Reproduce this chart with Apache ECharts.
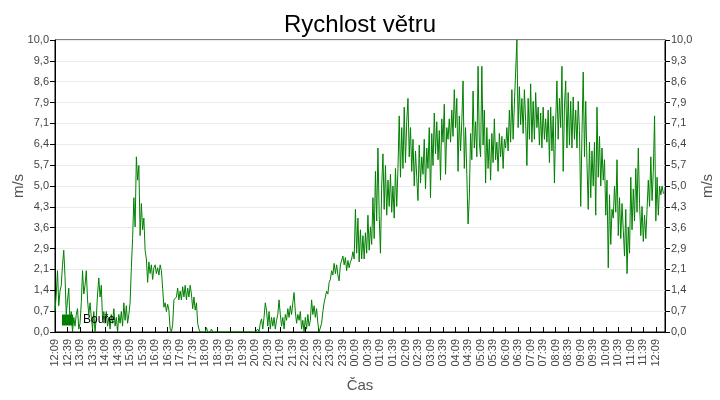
<!DOCTYPE html>
<html><head><meta charset="utf-8">
<script src="https://cdn.jsdelivr.net/npm/echarts@6/dist/echarts.min.js"></script>
<style>html,body{margin:0;padding:0;background:#fff}#c{width:720px;height:400px}</style>
</head><body><div id="c"></div>
<script>
const chartTitle = 'Rychlost větru';
const seriesName = 'Bouře';
const yName = 'm/s';
const xName = 'Čas';
const startMinutes = 12 * 60 + 9;   // 12:09
const stepMinutes = 3;
const spanMinutes = 1462;
const yMin = 0, yMax = 10, yDivisions = 14;

// wind speed, one value every 3 minutes, grouped by hour from 12:09
const h00 = [0.7, 1.3, 2.1, 0.9, 1.4, 1.6, 2.3, 2.8, 1.9, 0.6, 1.1, 1.5, 0.3, 0.7, 0.0, 0.5, 0.2, 0.6, 0.8, 0.1];
const h01 = [0.3, 1.0, 2.1, 1.3, 1.6, 2.1, 1.1, 0.6, 1.0, 0.5, 0.1, 0.7, 0.0, 0.5, 1.3, 1.85, 1.2, 1.6, 0.4, 0.7];
const h02 = [0.3, 0.7, 0.2, 0.5, 0.1, 0.6, 0.3, 0.8, 0.2, 0.5, 0.0, 0.6, 0.3, 0.7, 0.2, 1.0, 0.4, 0.9, 0.3, 0.6];
const h03 = [1.0, 2.2, 3.2, 4.6, 3.6, 6.0, 5.2, 5.7, 3.3, 4.4, 3.5, 3.9, 2.8, 2.5, 1.7, 2.4, 2.0, 2.3, 1.8, 2.2];
const h04 = [2.3, 2.0, 2.2, 1.95, 2.3, 2.1, 1.5, 0.85, 1.0, 0.7, 0.95, 0.75, 0.1, 0.0, 0.25, 1.1, 1.05, 1.2, 1.5, 1.1];
const h05 = [1.4, 1.1, 1.55, 1.2, 1.6, 1.1, 1.5, 1.2, 1.6, 1.3, 0.8, 1.2, 0.75, 1.0, 0.3, 0.1, 0.0, 0.0, 0.0, 0.0];
const h06 = [0.0, 0.15, 0.0, 0.0, 0.0, 0.1, 0.0, 0.0, 0.0, 0.0, 0.0, 0.0, 0.0, 0.0, 0.0, 0.0, 0.0, 0.0, 0.0, 0.0];
const h07 = [0.0, 0.0, 0.0, 0.0, 0.0, 0.0, 0.0, 0.0, 0.0, 0.0, 0.0, 0.0, 0.0, 0.0, 0.0, 0.0, 0.0, 0.0, 0.0, 0.0];
const h08 = [0.0, 0.0, 0.1, 0.0, 0.3, 0.45, 0.1, 0.5, 1.0, 0.75, 0.2, 0.7, 0.1, 0.5, 0.2, 0.5, 0.1, 0.4, 0.6, 1.1];
const h09 = [0.6, 0.2, 0.5, 0.1, 0.6, 0.4, 0.8, 0.5, 0.9, 0.6, 1.0, 1.35, 0.7, 0.3, 0.6, 0.4, 0.7, 0.1, 0.4, 0.0];
const h10 = [0.5, 0.1, 0.6, 0.2, 0.4, 1.1, 0.6, 0.9, 0.5, 0.8, 0.3, 0.0, 0.0, 0.3, 0.7, 1.0, 1.2, 1.4, 1.3, 1.7];
const h11 = [1.8, 2.1, 1.95, 2.35, 2.0, 2.3, 1.95, 1.75, 2.3, 2.25, 2.6, 2.3, 2.55, 2.1, 2.45, 2.2, 2.4, 2.5, 2.75, 2.5];
const h12 = [4.2, 2.7, 3.9, 2.4, 3.5, 2.5, 3.3, 2.5, 3.4, 2.7, 4.0, 2.8, 3.6, 3.0, 4.6, 3.2, 5.5, 3.8, 6.3, 4.0];
const h13 = [2.7, 5.0, 6.1, 4.2, 5.7, 4.0, 5.2, 4.3, 5.4, 4.1, 5.0, 3.9, 5.6, 4.3, 5.6, 7.4, 5.3, 7.0, 5.6, 7.7];
const h14 = [5.8, 7.2, 8.0, 6.0, 7.0, 5.5, 6.6, 5.0, 6.2, 5.3, 4.5, 6.4, 5.1, 6.0, 5.4, 6.6, 4.9, 6.3, 5.6, 7.0];
const h15 = [4.6, 6.8, 5.7, 7.5, 6.1, 7.2, 5.9, 6.9, 5.2, 7.3, 6.5, 7.8, 5.4, 7.0, 6.6, 7.3, 6.5, 7.6, 6.7, 8.3];
const h16 = [7.0, 8.0, 5.5, 7.4, 6.2, 7.2, 8.6, 5.6, 7.0, 5.4, 3.7, 4.6, 6.8, 5.9, 8.25, 6.3, 7.2, 6.0, 9.1, 6.5];
const h17 = [6.0, 9.1, 6.4, 7.6, 5.1, 7.0, 5.6, 6.6, 5.2, 6.8, 5.8, 7.3, 5.9, 6.5, 5.5, 6.8, 6.0, 6.7, 5.6, 6.6];
const h18 = [6.3, 7.0, 6.2, 7.6, 6.5, 8.3, 6.6, 7.8, 8.9, 10.0, 7.0, 8.4, 7.1, 8.0, 6.8, 8.3, 7.2, 5.7, 8.0, 6.6];
const h19 = [8.5, 6.5, 7.9, 6.6, 8.2, 7.0, 7.7, 6.4, 7.5, 6.3, 7.7, 6.6, 7.3, 6.5, 7.6, 5.8, 7.7, 6.2, 7.4, 5.1];
const h20 = [7.2, 8.6, 6.6, 8.0, 7.0, 9.1, 5.5, 7.7, 8.6, 6.3, 8.2, 6.4, 7.9, 6.3, 8.05, 6.6, 7.6, 6.3, 7.9, 6.9];
const h21 = [4.3, 6.8, 8.9, 6.0, 7.9, 5.8, 4.2, 6.5, 4.6, 6.2, 5.0, 6.5, 4.0, 7.7, 5.3, 6.7, 5.0, 6.3, 5.2, 5.9];
const h22 = [4.0, 5.2, 2.2, 4.7, 3.0, 4.2, 3.9, 5.0, 4.1, 5.9, 3.3, 4.6, 3.2, 4.4, 3.5, 2.6, 4.2, 2.0, 3.6, 2.7];
const h23 = [5.3, 3.5, 4.9, 3.8, 5.6, 4.1, 6.3, 4.4, 3.3, 4.3, 3.1, 4.0, 3.2, 4.2, 5.2, 4.3, 6.0, 4.5, 5.5, 7.4];
const h24 = [3.8, 5.3, 4.0, 5.0, 4.7, 5.0, 4.75, 4.75];

const speed = [].concat(h00, h01, h02, h03, h04, h05, h06, h07, h08, h09, h10, h11,
  h12, h13, h14, h15, h16, h17, h18, h19, h20, h21, h22, h23, h24);
const seriesData = speed.map((v, i) => [i * stepMinutes, v]);

function timeLabel(v) {
  if (Math.round(v) % 30 !== 0) return '';
  const t = (startMinutes + Math.round(v)) % 1440;
  const hh = Math.floor(t / 60), mm = t % 60;
  return String(hh).padStart(2, '0') + ':' + String(mm).padStart(2, '0');
}
function yLabel(v) { return v.toFixed(1).replace('.', ','); }

const font = 'Liberation Sans, Arial, sans-serif';
const yAxisCommon = {
  type: 'value', min: yMin, max: yMax, interval: (yMax - yMin) / yDivisions,
  name: yName, nameLocation: 'middle', nameMoveOverlap: false,
  nameTextStyle: { fontSize: 15, color: '#555', fontFamily: font },
  axisLine: { show: true, lineStyle: { color: '#000', width: 1 } },
  axisTick: { show: true, length: 5, lineStyle: { color: '#000' } },
  axisLabel: { formatter: yLabel, fontSize: 11, color: '#444', fontFamily: font, margin: 6 },
  splitLine: { show: true, lineStyle: { color: '#ebebeb', width: 1 } }
};

const chart = echarts.init(document.getElementById('c'), null, { renderer: 'canvas' });
chart.setOption({
  animation: false,
  backgroundColor: '#fff',
  title: { text: chartTitle, left: 'center', top: 8,
    textStyle: { fontSize: 24, fontWeight: 'normal', color: '#000', fontFamily: font } },
  legend: { data: [seriesName], left: 62, top: 314, padding: 0, icon: 'rect', itemWidth: 11, itemHeight: 11,
    itemGap: 5, textStyle: { fontSize: 12, color: '#000', fontFamily: font, padding: [0, 0, 0, 5] } },
  grid: { left: 55, right: 55, top: 40, bottom: 68, show: true, borderColor: '#000', borderWidth: 1,
    backgroundColor: 'transparent', containLabel: false, outerBoundsMode: 'none' },
  xAxis: {
    type: 'value', min: 0, max: spanMinutes, interval: 30,
    name: xName, nameLocation: 'middle', nameGap: 46, nameMoveOverlap: false,
    nameTextStyle: { fontSize: 15, color: '#555', fontFamily: font },
    axisLine: { show: true, onZero: false, lineStyle: { color: '#000', width: 1 } },
    axisTick: { show: true, inside: true, length: 5, lineStyle: { color: '#000' } },
    axisLabel: { formatter: timeLabel, rotate: 90, fontSize: 11, color: '#444', fontFamily: font,
      margin: 7, showMaxLabel: false },
    splitLine: { show: false }
  },
  yAxis: [
    Object.assign({}, yAxisCommon, { position: 'left', nameGap: 29 }),
    Object.assign({}, yAxisCommon, { position: 'right', nameGap: 35, splitLine: { show: false } })
  ],
  series: [{
    name: seriesName, type: 'line', data: seriesData, yAxisIndex: 0,
    symbol: 'none', sampling: null, color: '#008000',
    lineStyle: { color: '#008000', width: 1 }
  }]
});
</script>
</body></html>
